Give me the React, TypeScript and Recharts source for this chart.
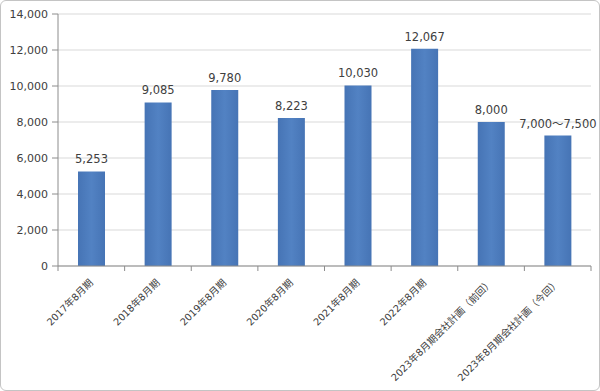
import React from "react";
import { BarChart, Bar, XAxis, YAxis, CartesianGrid, LabelList } from "recharts";

const categories = [
  "2017年8月期",
  "2018年8月期",
  "2019年8月期",
  "2020年8月期",
  "2021年8月期",
  "2022年8月期",
  "2023年8月期会社計画（前回）",
  "2023年8月期会社計画（今回）",
];
const values = [5253, 9085, 9780, 8223, 10030, 12067, 8000, 7250];
const valueLabels = ["5,253", "9,085", "9,780", "8,223", "10,030", "12,067", "8,000", "7,000～7,500"];
const yTicks = [0, 2000, 4000, 6000, 8000, 10000, 12000, 14000];

const data = categories.map((name, i) => ({ name, value: values[i], label: valueLabels[i] }));

const chartWidth = 598;
const chartHeight = 389;
const margin = { top: 13, right: 8, left: 0, bottom: 0 };
const yAxisWidth = 57;
const band = (chartWidth - margin.left - margin.right - yAxisWidth) / categories.length;

const font = "'DejaVu Sans', 'Noto Sans CJK JP', sans-serif";
const textColor = "#404040";
const axisColor = "#8c8c8c";

const XTick = (props: any) => {
  const { x, y, payload, index } = props;
  const axisY = y - 7;
  const half = band / 2;
  const tx = x;
  const ty = y + 8;
  return (
    <g>
      <line x1={x - half} y1={axisY} x2={x - half} y2={axisY + 5} stroke={axisColor} />
      {index === categories.length - 1 && (
        <line x1={x + half} y1={axisY} x2={x + half} y2={axisY + 5} stroke={axisColor} />
      )}
      <text
        x={tx}
        y={ty}
        dy="0.35em"
        textAnchor="end"
        transform={`rotate(-45, ${tx}, ${ty})`}
        fontSize={9.8}
        fontFamily={font}
        fill={textColor}
      >
        {payload.value}
      </text>
    </g>
  );
};

export default function App() {
  return (
    <div
      style={{
        position: "absolute",
        left: 0,
        top: 0,
        width: 600,
        height: 391,
        border: "1px solid #c4c4c4",
        borderRadius: 6,
        boxSizing: "border-box",
        background: "#fff",
      }}
    >
      <BarChart width={chartWidth} height={chartHeight} data={data} margin={margin}>
        <defs>
          <linearGradient id="barFill" x1="0" y1="0" x2="1" y2="0">
            <stop offset="0%" stopColor="#4674b5" />
            <stop offset="50%" stopColor="#5282c3" />
            <stop offset="100%" stopColor="#4674b5" />
          </linearGradient>
        </defs>
        <CartesianGrid vertical={false} stroke="#d9d9d9" />
        <XAxis
          dataKey="name"
          interval={0}
          height={124}
          tickSize={5}
          tickMargin={2}
          tickLine={false}
          axisLine={{ stroke: axisColor }}
          tick={<XTick />}
        />
        <YAxis
          width={yAxisWidth}
          domain={[0, 14000]}
          ticks={yTicks}
          interval={0}
          tickSize={6}
          tickMargin={4}
          tickLine={{ stroke: axisColor }}
          axisLine={{ stroke: axisColor }}
          tickFormatter={(v: number) => v.toLocaleString("en-US")}
          tick={{ fontSize: 11, fontFamily: font, fill: textColor }}
        />
        <Bar dataKey="value" fill="url(#barFill)" barSize={27} isAnimationActive={false}>
          <LabelList
            dataKey="label"
            position="top"
            offset={8}
            fontSize={11.5}
            fontFamily={font}
            fill={textColor}
          />
        </Bar>
      </BarChart>
    </div>
  );
}
